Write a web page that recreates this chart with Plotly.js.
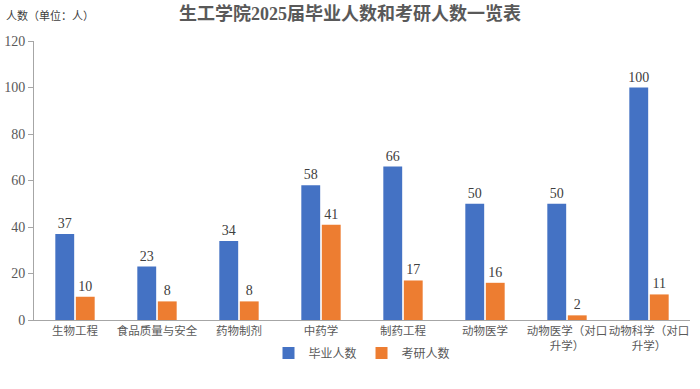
<!DOCTYPE html>
<html><head><meta charset="utf-8">
<script src="https://cdn.plot.ly/plotly-3.0.1.min.js"></script>
<style>html,body{margin:0;padding:0;background:#fff}#c{width:700px;height:389px}</style>
</head><body><div id="c"></div>
<script>
const categories = ["生物工程","食品质量与安全","药物制剂","中药学","制药工程","动物医学","动物医学（对口<br>升学）","动物科学（对口<br>升学）"];
const graduates = [37,23,34,58,66,50,50,100];
const postgrad = [10,8,8,41,17,16,2,11];
const seriesNames = ["毕业人数","考研人数"];
const yTicks = [0,20,40,60,80,100,120];

const fontFam = '"Liberation Serif","Noto Sans CJK SC",serif';
const traces = [
  {type:'bar', name:seriesNames[0], x:categories, y:graduates, marker:{color:'#4472C4'},
   text:graduates.map(String), textposition:'outside', cliponaxis:false, constraintext:'none',
   textfont:{family:fontFam,size:14,color:'#404040'}},
  {type:'bar', name:seriesNames[1], x:categories, y:postgrad, marker:{color:'#ED7D31'},
   text:postgrad.map(String), textposition:'outside', cliponaxis:false, constraintext:'none',
   textfont:{family:fontFam,size:14,color:'#404040'}}
];
const layout = {
  width:700, height:389,
  margin:{l:34,r:10,t:41,b:69},
  paper_bgcolor:'#fff', plot_bgcolor:'#fff',
  font:{family:fontFam, color:'#595959', size:12},
  title:{text:'<b>生工学院2025届毕业人数和考研人数一览表</b>', x:0.5, xanchor:'center', y:0.965, yanchor:'middle',
         font:{family:fontFam,size:18,color:'#595959'}},
  barmode:'group', bargap:0.5, bargroupgap:0.08,
  xaxis:{tickvals:categories, ticktext:categories, showline:true, linecolor:'#A6A6A6', linewidth:1,
         ticks:'', tickangle:0, automargin:false, tickfont:{family:fontFam,size:11.5,color:'#595959'}, showgrid:false, fixedrange:true},
  yaxis:{range:[0,120], tickvals:yTicks, showline:true, linecolor:'#A6A6A6', linewidth:1, automargin:false,
         ticks:'outside', ticklen:5, tickcolor:'#A6A6A6', showgrid:false, zeroline:false,
         tickfont:{family:fontFam,size:14,color:'#595959'}},
  legend:{orientation:'h', x:0.5, xanchor:'center', y:0.055, yref:'container', yanchor:'bottom',
          font:{family:fontFam,size:12,color:'#595959'}, traceorder:'normal', itemwidth:30},
  annotations:[{text:'人数（单位：人）', xref:'paper', yref:'paper', x:-0.045, y:1.06, xanchor:'left', yanchor:'bottom',
                showarrow:false, font:{family:fontFam,size:11,color:'#404040'}}],
  showlegend:true
};
Plotly.newPlot('c', traces, layout, {displayModeBar:false, staticPlot:true});
</script></body></html>
